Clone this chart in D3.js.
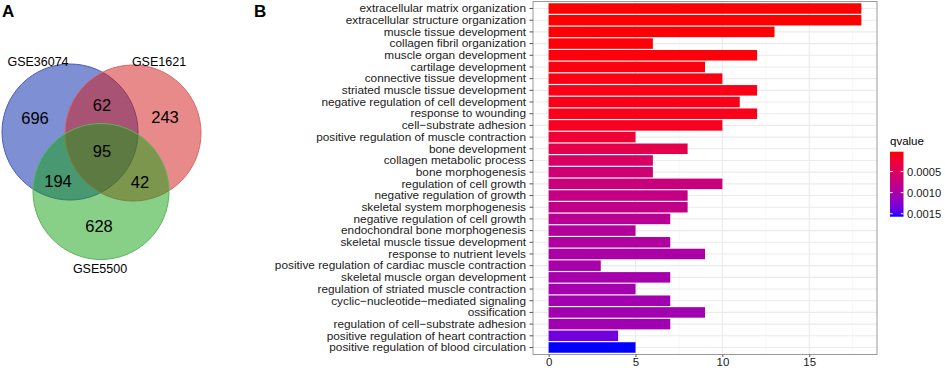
<!DOCTYPE html>
<html lang="en">
<head>
    <meta charset="UTF-8">
    <title>Venn diagram and GO enrichment</title>
    <script src="https://d3js.org/d3.v7.min.js"></script>
    <style>
        body { margin: 0; background: #fff; }
        svg { display: block; font-family: "Liberation Sans", Arial, sans-serif; }
        .axis path.domain { display: none; }
    </style>
</head>
<body>
    <div id="chart"></div>
    <script>
        // ---- data ----
        const setNames = ["GSE36074", "GSE1621", "GSE5500"];
        // region counts: A only, A&B, B only, A&B&C, A&C, B&C, C only
        const regionKeys = ["A", "AB", "B", "ABC", "AC", "BC", "C"];
        const regionCounts = [696, 62, 243, 95, 194, 42, 628];

        const terms = [
            "extracellular matrix organization",
            "extracellular structure organization",
            "muscle tissue development",
            "collagen fibril organization",
            "muscle organ development",
            "cartilage development",
            "connective tissue development",
            "striated muscle tissue development",
            "negative regulation of cell development",
            "response to wounding",
            "cell\u2212substrate adhesion",
            "positive regulation of muscle contraction",
            "bone development",
            "collagen metabolic process",
            "bone morphogenesis",
            "regulation of cell growth",
            "negative regulation of growth",
            "skeletal system morphogenesis",
            "negative regulation of cell growth",
            "endochondral bone morphogenesis",
            "skeletal muscle tissue development",
            "response to nutrient levels",
            "positive regulation of cardiac muscle contraction",
            "skeletal muscle organ development",
            "regulation of striated muscle contraction",
            "cyclic\u2212nucleotide\u2212mediated signaling",
            "ossification",
            "regulation of cell\u2212substrate adhesion",
            "positive regulation of heart contraction",
            "positive regulation of blood circulation"
        ];
        const counts = [18, 18, 13, 6, 12, 9, 10, 12, 11, 12, 10, 5, 8, 6, 6,
                        10, 8, 8, 7, 5, 7, 9, 3, 7, 5, 7, 9, 7, 4, 5];
        const qvalues = [0.00003, 0.00003, 0.00004, 0.00005, 0.00006, 0.00007, 0.00008,
                         0.00009, 0.00010, 0.00011, 0.00014, 0.00025, 0.00040, 0.00055,
                         0.00065, 0.00072, 0.00078, 0.00080, 0.00088, 0.00092, 0.00095,
                         0.00100, 0.00103, 0.00104, 0.00105, 0.00106, 0.00107, 0.00108,
                         0.00135, 0.00157];
        const xTicks = [0, 5, 10, 15];
        const xMinor = [2.5, 7.5, 12.5, 17.5];
        const legendTicks = [0.0005, 0.0010, 0.0015];

        const width = 945, height = 368;
        const svg = d3.select("#chart").append("svg")
            .attr("width", width)
            .attr("height", height);

        // ---- panel A: venn ----
        const circles = [
            { cx: 70, cy: 132, r: 68, fill: "#0020a8", stroke: "#4a5cb4" },
            { cx: 133, cy: 133, r: 68, fill: "#d11515", stroke: "#d46a6a" },
            { cx: 101, cy: 191.5, r: 68, fill: "#11a111", stroke: "#5cb45c" }
        ];
        const venn = svg.append("g");
        venn.selectAll("circle")
            .data(circles)
            .enter()
            .append("circle")
            .attr("cx", d => d.cx)
            .attr("cy", d => d.cy)
            .attr("r", d => d.r)
            .attr("fill", d => d.fill)
            .attr("fill-opacity", 0.5)
            .attr("stroke", d => d.stroke)
            .attr("stroke-width", 1);

        // where each region's number sits
        const regionPos = {
            A: [35, 118], AB: [102, 105], B: [165, 117], ABC: [102, 151],
            AC: [58, 181], BC: [140, 182], C: [99, 226]
        };
        venn.selectAll("text.count")
            .data(regionKeys.map((k, i) => ({ k, n: regionCounts[i] })))
            .enter()
            .append("text")
            .attr("class", "count")
            .attr("x", d => regionPos[d.k][0])
            .attr("y", d => regionPos[d.k][1] + 6)
            .attr("text-anchor", "middle")
            .style("font-size", "16.5px")
            .text(d => d.n);

        const setLabelPos = [[38, 66], [159, 66], [100, 273]];
        venn.selectAll("text.set")
            .data(setNames)
            .enter()
            .append("text")
            .attr("class", "set")
            .attr("x", (d, i) => setLabelPos[i][0])
            .attr("y", (d, i) => setLabelPos[i][1])
            .attr("text-anchor", "middle")
            .style("font-size", "12.5px")
            .text(d => d);

        svg.append("text").attr("x", 2).attr("y", 17)
            .style("font-size", "17px").style("font-weight", "bold").text("A");
        svg.append("text").attr("x", 254).attr("y", 17)
            .style("font-size", "17px").style("font-weight", "bold").text("B");

        // ---- panel B: bar chart ----
        const panel = { left: 533, right: 877, top: 1.5, bottom: 354.5 };

        const xScale = d3.scaleLinear()
            .domain([-0.9, 18.9])
            .range([panel.left, panel.right]);

        const yScale = d3.scaleBand()
            .domain(terms)
            .range([panel.top, panel.bottom])
            .paddingInner(0.1)
            .paddingOuter(0.15);

        const color = d3.scaleLinear()
            .domain(d3.extent(qvalues))
            .range(["red", "blue"])
            .interpolate(d3.interpolateLab);

        // grid
        svg.append("g").selectAll("line")
            .data(xMinor)
            .enter().append("line")
            .attr("x1", d => xScale(d)).attr("x2", d => xScale(d))
            .attr("y1", panel.top).attr("y2", panel.bottom)
            .attr("stroke", "#f2f2f2").attr("stroke-width", 0.6);
        svg.append("g").selectAll("line")
            .data(xTicks)
            .enter().append("line")
            .attr("x1", d => xScale(d)).attr("x2", d => xScale(d))
            .attr("y1", panel.top).attr("y2", panel.bottom)
            .attr("stroke", "#ebebeb").attr("stroke-width", 1.1);
        svg.append("g").selectAll("line")
            .data(terms)
            .enter().append("line")
            .attr("x1", panel.left).attr("x2", panel.right)
            .attr("y1", d => yScale(d) + yScale.bandwidth() / 2)
            .attr("y2", d => yScale(d) + yScale.bandwidth() / 2)
            .attr("stroke", "#ebebeb").attr("stroke-width", 1.1);

        // bars
        svg.append("g").selectAll("rect")
            .data(terms.map((t, i) => ({ t, n: counts[i], q: qvalues[i] })))
            .enter().append("rect")
            .attr("x", xScale(0))
            .attr("y", d => yScale(d.t))
            .attr("width", d => xScale(d.n) - xScale(0))
            .attr("height", yScale.bandwidth())
            .attr("fill", d => color(d.q));

        // panel border
        svg.append("rect")
            .attr("x", panel.left).attr("y", panel.top)
            .attr("width", panel.right - panel.left)
            .attr("height", panel.bottom - panel.top)
            .attr("fill", "none").attr("stroke", "#9a9a9a").attr("stroke-width", 1);

        // axes
        const yAxis = svg.append("g")
            .attr("class", "axis")
            .attr("transform", "translate(" + panel.left + ",0)")
            .call(d3.axisLeft(yScale).tickSize(3.5).tickPadding(3.5));
        yAxis.selectAll("line").attr("stroke", "#555");
        yAxis.selectAll("text").style("font-size", "11.8px").attr("fill", "#1a1a1a")
            .attr("font-family", null);

        const xAxis = svg.append("g")
            .attr("class", "axis")
            .attr("transform", "translate(0," + panel.bottom + ")")
            .call(d3.axisBottom(xScale).tickValues(xTicks).tickSize(2.5).tickPadding(0.5));
        xAxis.selectAll("line").attr("stroke", "#555");
        xAxis.selectAll("text").style("font-size", "11.5px").attr("fill", "#1a1a1a")
            .attr("font-family", null);

        // ---- legend ----
        const leg = { x: 890, w: 13.5, top: 151.7, bottom: 216.7 };
        const legScale = d3.scaleLinear()
            .domain(d3.extent(qvalues))
            .range([leg.top, leg.bottom]);

        const grad = svg.append("defs").append("linearGradient")
            .attr("id", "qgrad")
            .attr("x1", 0).attr("y1", 0).attr("x2", 0).attr("y2", 1);
        grad.selectAll("stop")
            .data(d3.range(0, 1.0001, 0.05))
            .enter().append("stop")
            .attr("offset", d => d)
            .attr("stop-color", d => color(legScale.invert(leg.top + d * (leg.bottom - leg.top))));

        svg.append("text")
            .attr("x", leg.x).attr("y", 145)
            .style("font-size", "11.5px")
            .text("qvalue");

        svg.append("rect")
            .attr("x", leg.x).attr("y", leg.top)
            .attr("width", leg.w).attr("height", leg.bottom - leg.top)
            .attr("fill", "url(#qgrad)");

        const legTickG = svg.append("g").selectAll("g")
            .data(legendTicks)
            .enter().append("g");
        legTickG.append("line")
            .attr("x1", leg.x).attr("x2", leg.x + 2.7)
            .attr("y1", d => legScale(d)).attr("y2", d => legScale(d))
            .attr("stroke", "white").attr("stroke-width", 1);
        legTickG.append("line")
            .attr("x1", leg.x + leg.w - 2.7).attr("x2", leg.x + leg.w)
            .attr("y1", d => legScale(d)).attr("y2", d => legScale(d))
            .attr("stroke", "white").attr("stroke-width", 1);
        legTickG.append("text")
            .attr("x", leg.x + leg.w + 3.5)
            .attr("y", d => legScale(d) + 4)
            .style("font-size", "11.2px")
            .attr("fill", "#1a1a1a")
            .text(d => d.toFixed(4));
    </script>
</body>
</html>
